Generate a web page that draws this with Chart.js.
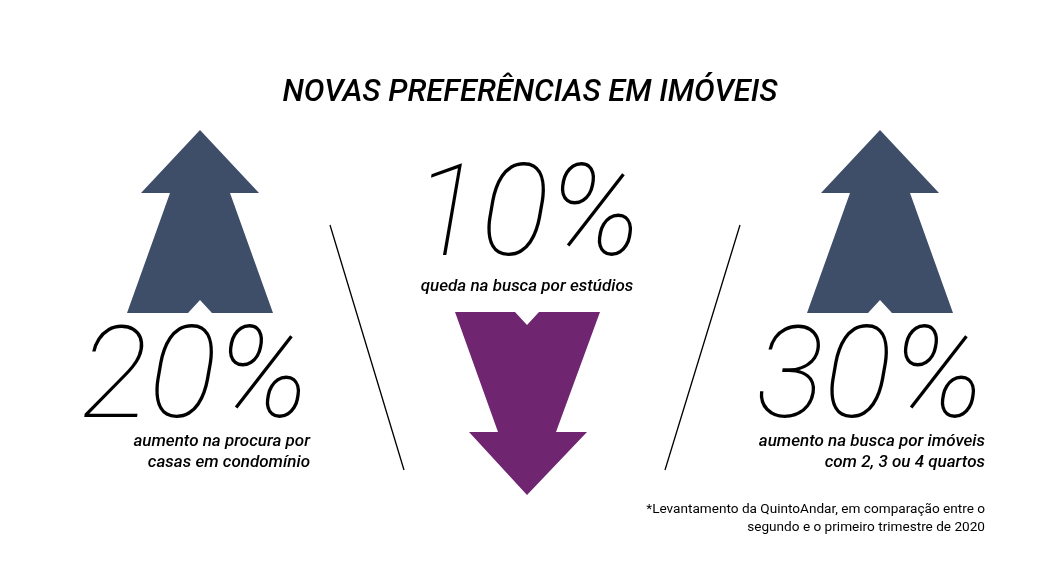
<!DOCTYPE html>
<html><head><meta charset="utf-8">
<script src="https://cdn.jsdelivr.net/npm/chart.js@4"></script>
<style>html,body{margin:0;background:#fff}#w{width:1050px;height:572px}</style>
</head><body><div id="w"><canvas id="c"></canvas></div>
<script>
const title = "NOVAS PREFERÊNCIAS EM IMÓVEIS";
const categories = ["casas em condomínio", "estúdios", "imóveis com 2, 3 ou 4 quartos"];
const values = [20, -10, 30];
const captions = [["aumento na procura por","casas em condomínio"],["queda na busca por estúdios"],["aumento na busca por imóveis","com 2, 3 ou 4 quartos"]];
const footnote = ["*Levantamento da QuintoAndar, em comparação entre o","segundo e o primeiro trimestre de 2020"];
const UP="#3e4d68", DOWN="#6f2570";

const draw = {
  id:'info',
  afterDatasetsDraw(chart){
    const c=chart.ctx, xs=chart.scales.x;
    c.save();
    c.fillStyle="#000";c.textAlign="center";c.textBaseline="alphabetic";
    c.font="italic 500 31px Roboto";
    c.fillText(title,530,101);
    c.strokeStyle="#000";c.lineWidth=1.3;
    c.beginPath();c.moveTo(330,225);c.lineTo(404,470);c.moveTo(740,225);c.lineTo(665,470);c.stroke();
    values.forEach((v,i)=>{
      let x=xs.getPixelForValue(i);
      c.beginPath();
      if(v>=0){
        const t=130;
        c.moveTo(x,t);c.lineTo(x+59,t+63);c.lineTo(x+30,t+63);c.lineTo(x+73,t+183);
        c.lineTo(x+12,t+183);c.lineTo(x,t+170);c.lineTo(x-12,t+183);c.lineTo(x-73,t+183);
        c.lineTo(x-30,t+63);c.lineTo(x-59,t+63);c.closePath();c.fillStyle=UP;
      } else {
        x-=13;
        const t=312;
        c.moveTo(x-72,t);c.lineTo(x-12,t);c.lineTo(x,t+13);c.lineTo(x+12,t);c.lineTo(x+73,t);
        c.lineTo(x+29,t+120);c.lineTo(x+60,t+120);c.lineTo(x,t+183);c.lineTo(x-58,t+120);
        c.lineTo(x-29,t+120);c.closePath();c.fillStyle=DOWN;
      }
      c.fill();
      const label=Math.abs(v)+"%";
      c.fillStyle="#000";
      c.font="italic 100 128px Roboto";
      if(v>=0){
        const cx = i===0 ? x-5 : x-10;
        c.textAlign="center";c.fillText(label,cx,417);
        c.font="italic 500 17px Roboto";c.textAlign="right";
        const rx = i===0 ? x+110 : x+105;
        captions[i].forEach((s,k)=>c.fillText(s,rx,446+k*21));
      } else {
        c.textAlign="center";c.fillText(label,x,255);
        c.font="italic 500 17px Roboto";
        c.fillText(captions[i][0],x,291);
      }
    });
    c.font="13.6px Roboto";c.textAlign="right";
    footnote.forEach((s,k)=>c.fillText(s,985,513+k*18));
    c.restore();
  }
};

new Chart(document.getElementById('c'),{
  type:'bar',
  data:{labels:categories,datasets:[{data:values,backgroundColor:'rgba(0,0,0,0)'}]},
  options:{responsive:true,maintainAspectRatio:false,animation:false,
    layout:{padding:{left:30,right:0}},
    plugins:{legend:{display:false},tooltip:{enabled:false}},
    scales:{x:{display:false},y:{display:false,min:-40,max:40}}},
  plugins:[draw]
});
</script></body></html>
